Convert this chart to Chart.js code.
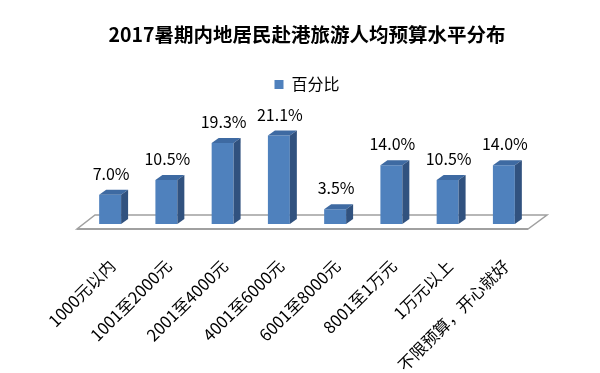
<!DOCTYPE html>
<html>
<head>
<meta charset="utf-8">
<script src="https://cdn.jsdelivr.net/npm/chart.js@4/dist/chart.umd.min.js"></script>
<style>
body { margin: 0; background: #fff; }
#wrap { width: 600px; height: 373px; }
</style>
</head>
<body>
<div id="wrap"><canvas id="barChart" width="600" height="373"></canvas></div>
<script>
// 数据
var categories = ['1000元以内', '1001至2000元', '2001至4000元', '4001至6000元', '6001至8000元', '8001至1万元', '1万元以上', '不限预算，开心就好'];
var percents = [7.0, 10.5, 19.3, 21.1, 3.5, 14.0, 10.5, 14.0];
var seriesName = '百分比';
var chartTitle = '2017暑期内地居民赴港旅游人均预算水平分布';

var FONT = '"Noto Sans CJK SC", "Microsoft YaHei", sans-serif';
var frontColor = '#4F81BD';
var topColor = '#3E6AA2';
var sideColor = '#31527F';
var depthX = 7, depthY = -5;

// 3D 底座 + 立体柱
var bar3d = {
    id: 'bar3d',
    beforeDatasetsDraw: function(chart) {
        var ctx = chart.ctx;
        var area = chart.chartArea;
        var y0 = chart.scales.y.getPixelForValue(0);
        ctx.save();
        ctx.strokeStyle = '#A0A0A0';
        ctx.lineWidth = 1.5;
        ctx.fillStyle = '#fff';
        ctx.beginPath();
        ctx.moveTo(area.left - 5, y0 + 5);
        ctx.lineTo(area.right - 4, y0 + 5);
        ctx.lineTo(area.right + 15, y0 - 9);
        ctx.lineTo(area.left + 13, y0 - 9);
        ctx.closePath();
        ctx.fill();
        ctx.stroke();
        // 前沿稍粗
        ctx.lineWidth = 2;
        ctx.beginPath();
        ctx.moveTo(area.left - 5, y0 + 5);
        ctx.lineTo(area.right - 4, y0 + 5);
        ctx.stroke();
        ctx.restore();
    },
    afterDatasetsDraw: function(chart) {
        var ctx = chart.ctx;
        var meta = chart.getDatasetMeta(0);
        ctx.save();
        meta.data.forEach(function(bar, i) {
            var p = bar.getProps(['x', 'y', 'base', 'width'], true);
            var l = p.x - p.width / 2, r = p.x + p.width / 2;
            // 顶面
            ctx.fillStyle = topColor;
            ctx.beginPath();
            ctx.moveTo(l, p.y);
            ctx.lineTo(l + depthX, p.y + depthY);
            ctx.lineTo(r + depthX, p.y + depthY);
            ctx.lineTo(r, p.y);
            ctx.closePath();
            ctx.fill();
            // 侧面
            ctx.fillStyle = sideColor;
            ctx.beginPath();
            ctx.moveTo(r, p.y);
            ctx.lineTo(r + depthX, p.y + depthY);
            ctx.lineTo(r + depthX, p.base + depthY);
            ctx.lineTo(r, p.base);
            ctx.closePath();
            ctx.fill();
            // 数值标签
            ctx.fillStyle = '#000';
            ctx.font = '16px ' + FONT;
            ctx.textAlign = 'center';
            ctx.textBaseline = 'middle';
            ctx.fillText(percents[i].toFixed(1) + '%', p.x + 1, p.y - 21);
        });
        ctx.restore();
    }
};

var ctx = document.getElementById('barChart');
var myChart = new Chart(ctx, {
    type: 'bar',
    data: {
        labels: categories,
        datasets: [{
            label: seriesName,
            data: percents,
            backgroundColor: frontColor,
            borderWidth: 0,
            categoryPercentage: 0.39,
            barPercentage: 1
        }]
    },
    options: {
        responsive: false,
        animation: false,
        devicePixelRatio: 1,
        layout: { padding: { left: 82, right: 68, top: 0, bottom: 0 } },
        plugins: {
            title: {
                display: true,
                text: chartTitle,
                color: '#000',
                font: { family: FONT, size: 19.5, weight: 'bold' },
                padding: { top: 23, bottom: 20 }
            },
            legend: {
                display: true,
                labels: {
                    color: '#000',
                    font: { family: FONT, size: 16 },
                    boxWidth: 9,
                    boxHeight: 9,
                    padding: 10
                }
            },
            tooltip: { enabled: false }
        },
        scales: {
            x: {
                grid: { display: false, drawTicks: false },
                border: { display: false },
                ticks: {
                    color: '#000',
                    font: { family: FONT, size: 16.5 },
                    minRotation: 45,
                    maxRotation: 45,
                    autoSkip: false,
                    padding: 32,
                    labelOffset: 2
                },
                afterFit: function(scale) { scale.height = 149; }
            },
            y: {
                display: false,
                min: 0,
                max: 29
            }
        }
    },
    plugins: [bar3d]
});
</script>
</body>
</html>
